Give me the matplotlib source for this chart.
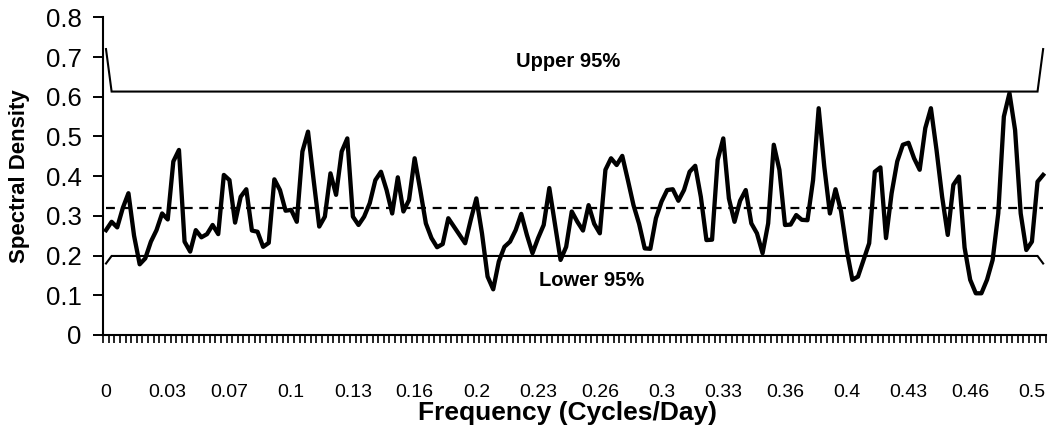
import matplotlib
matplotlib.use("Agg")
import matplotlib.pyplot as plt
from matplotlib.ticker import FixedLocator, NullFormatter

# ---- data ----
density = [0.264, 0.285, 0.271, 0.32, 0.357, 0.25, 0.178, 0.193, 0.235, 0.264,
           0.306, 0.291, 0.437, 0.466, 0.235, 0.210, 0.264, 0.246, 0.254, 0.277,
           0.254, 0.403, 0.390, 0.283, 0.348, 0.367, 0.263, 0.26, 0.222, 0.232,
           0.392, 0.365, 0.313, 0.315,
           0.285, 0.462, 0.512, 0.39, 0.273, 0.298, 0.407, 0.353, 0.462, 0.495,
           0.298, 0.277, 0.298, 0.332, 0.39, 0.411, 0.365, 0.306, 0.397, 0.311,
           0.34, 0.445, 0.365, 0.281, 0.244, 0.221, 0.229, 0.294, 0.273, 0.252,
           0.231, 0.29, 0.344,
           0.256, 0.147, 0.115, 0.185, 0.222, 0.235, 0.264, 0.305, 0.252, 0.206,
           0.244, 0.277, 0.37, 0.28, 0.189, 0.222, 0.311, 0.285, 0.263, 0.327,
           0.28, 0.256, 0.416, 0.445, 0.428, 0.451, 0.39, 0.327, 0.28, 0.218,
           0.217, 0.294, 0.336, 0.365,
           0.367, 0.338, 0.365, 0.411, 0.426, 0.348, 0.239, 0.24, 0.441, 0.495,
           0.344, 0.285, 0.338, 0.365, 0.281, 0.256, 0.206, 0.281, 0.479, 0.416,
           0.277, 0.278, 0.302, 0.29, 0.289, 0.39, 0.571, 0.424, 0.306, 0.367,
           0.311, 0.214, 0.139,
           0.147, 0.189, 0.231, 0.411, 0.422, 0.244, 0.357, 0.437, 0.479, 0.484,
           0.445, 0.416, 0.521, 0.571, 0.466, 0.348, 0.252, 0.378, 0.399, 0.22,
           0.139, 0.105, 0.105, 0.139, 0.189, 0.306, 0.55, 0.609, 0.516, 0.306,
           0.214, 0.235, 0.386, 0.403]

upper_end, upper_mid = 0.72, 0.613
lower_end, lower_mid = 0.18, 0.199
mean_level = 0.319

x_tick_labels = ["0", "0.03", "0.07", "0.1", "0.13", "0.16", "0.2", "0.23",
                 "0.26", "0.3", "0.33", "0.36", "0.4", "0.43", "0.46", "0.5"]
label_every = 11
y_ticks = [0, 0.1, 0.2, 0.3, 0.4, 0.5, 0.6, 0.7, 0.8]
y_tick_labels = ["0", "0.1", "0.2", "0.3", "0.4", "0.5", "0.6", "0.7", "0.8"]

n = len(density)
cats = list(range(n))
upper = [upper_end] + [upper_mid] * (n - 2) + [upper_end]
lower = [lower_end] + [lower_mid] * (n - 2) + [lower_end]
mean_line = [mean_level] * n

plt.rcParams['font.family'] = ['Liberation Sans', 'DejaVu Sans']

fig = plt.figure(figsize=(10.53, 4.25), dpi=100)
ax = fig.add_axes([0.098, 0.2118, 0.8953, 0.7475])

ax.plot(cats, upper, color='black', lw=1.5, solid_joinstyle='miter')
ax.plot(cats, lower, color='black', lw=1.5, solid_joinstyle='miter')
ax.plot(cats, mean_line, color='black', lw=1.6, dashes=(4, 3))
ax.plot(cats, density, color='black', lw=3.1, solid_joinstyle='round')

ax.set_xlim(-0.5, n - 0.5)
ax.set_ylim(0, 0.8)

ax.text(82.4, 0.688, "Upper 95%", ha='center', va='center',
        fontsize=14.5, fontweight='bold')
ax.text(86.5, 0.136, "Lower 95%", ha='center', va='center',
        fontsize=14.5, fontweight='bold')

ax.set_yticks(y_ticks)
ax.set_yticklabels(y_tick_labels)
ax.tick_params(axis='y', direction='out', length=7.2, width=1.4,
               labelsize=18.5, pad=8.3)

major_pos = list(range(0, label_every * len(x_tick_labels), label_every))
ax.xaxis.set_major_locator(FixedLocator(major_pos))
ax.set_xticklabels(x_tick_labels)
ax.xaxis.set_minor_locator(FixedLocator([i - 0.5 for i in range(n + 1)]))
ax.xaxis.set_minor_formatter(NullFormatter())
ax.tick_params(axis='x', which='major', length=0, labelsize=14, pad=35)
ax.tick_params(axis='x', which='minor', direction='out', length=5.5, width=1.2)

for s in ['top', 'right']:
    ax.spines[s].set_visible(False)
for s in ['left', 'bottom']:
    ax.spines[s].set_linewidth(1.5)

ax.set_xlabel("Frequency (Cycles/Day)", fontsize=19, fontweight='bold')
ax.xaxis.label.set_va('center')
ax.xaxis.set_label_coords(0.493, -0.247)
ax.set_ylabel("Spectral Density", fontsize=16, fontweight='bold')
ax.yaxis.label.set_va('center')
ax.yaxis.set_label_coords(-0.0893, 0.5)

fig.savefig("out.png", dpi=100)
